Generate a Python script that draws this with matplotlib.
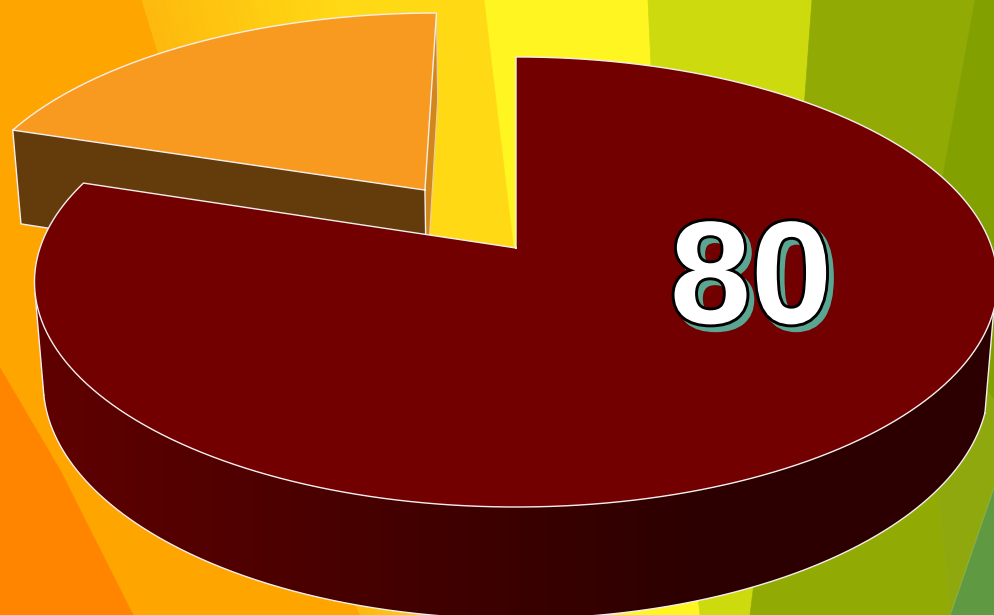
import numpy as np
import matplotlib
matplotlib.use('Agg')
import matplotlib.pyplot as plt
from matplotlib.patches import Polygon
from matplotlib.colors import to_rgb
import matplotlib.patheffects as pe

# data
values = [80, 20]
labels = ['80']
top_colors = ['#730000', '#f99a20']
explode = [0.0, 0.339]

# layout / projection
W, H = 994, 615
CX, CY = 516, 248
BX, AY, K = 476.0, 219.9, 0.151
DEPTH_Y, DEPTH_D = 101.6, 0.018

fig = plt.figure(figsize=(W / 100, H / 100), dpi=100)
ax = fig.add_axes([0, 0, 1, 1])

# decorative background bands
bands = [
    ('#ffa500', [(0, 0), (142, 0), (200, 190), (360, 615), (0, 615)]),
    ('#ff8500', [(0, 368), (60, 470), (133, 615), (0, 615)]),
    ('#fff520', [(484, 0), (648, 0), (660, 260), (700, 615), (560, 615), (515, 260)]),
    ('#cdda0e', [(648, 0), (812, 0), (790, 300), (750, 615), (700, 615), (660, 260)]),
    ('#92ab04', [(812, 0), (975, 0), (920, 300), (950, 615), (750, 615), (790, 300)]),
    ('#82a000', [(975, 0), (994, 0), (994, 400), (920, 300)]),
    ('#8ea80e', [(920, 300), (994, 400), (994, 487), (950, 615)]),
    ('#5f9a42', [(994, 487), (994, 615), (950, 615)]),
]
for col, pts in bands:
    ax.add_patch(Polygon(pts, closed=True, fc=col, ec=col, lw=0.5, zorder=0))
# soft gold ramp between the orange and yellow bands
n_ramp = 60
left_b = np.array([(142, 0), (200, 190), (360, 615)], float)
right_b = np.array([(484, 0), (515, 260), (560, 615)], float)
c0, c1 = np.array(to_rgb('#fdb90c')), np.array(to_rgb('#ffda14'))
for i in range(n_ramp):
    f0, f1 = i / n_ramp, (i + 1) / n_ramp
    a = left_b + (right_b - left_b) * f0
    b = left_b + (right_b - left_b) * f1
    c = c0 + (c1 - c0) * min(1, (i + .5) / (n_ramp * .6))
    ax.add_patch(Polygon(np.r_[a, b[::-1]], closed=True, fc=c, ec=c, lw=0.5, zorder=0.5))


def project(u, v, z=0.0):
    d = 1 + K * v + DEPTH_D * z
    return CX + BX * u / d, CY - (AY * v - DEPTH_Y * z) / d


def rim(t0, t1, ox, oy, z=0.0, n=200):
    t = np.linspace(t0, t1, n)
    return project(ox + np.sin(t), oy + np.cos(t), z)


total = sum(values)
angles = np.cumsum([0] + values) / total * 2 * np.pi
LINE = dict(color='#f4eeee', lw=1.0, solid_joinstyle='round')

# exploded slice (index 1)
t0, t1 = angles[1], angles[2]
mid = (t0 + t1) / 2
ox, oy = explode[1] * np.sin(mid), explode[1] * np.cos(mid)
ax0, ay0 = project(ox, oy)
bx0, by0 = project(ox, oy, 1)
px, py = project(ox + np.sin(t1), oy + np.cos(t1))
qx, qy = project(ox + np.sin(t1), oy + np.cos(t1), 1)
ax.add_patch(Polygon([(ax0, ay0), (px, py), (qx, qy), (bx0, by0)], fc='#d3871a', ec='none', zorder=2))
ax.plot([px, qx, bx0], [py, qy, by0], zorder=2.1, color='#e8cfa8', lw=0.8)
lx, ly = project(ox + np.sin(t0), oy + np.cos(t0))
mx, my = project(ox + np.sin(t0), oy + np.cos(t0), 1)
ax.add_patch(Polygon([(lx, ly), (ax0, ay0), (bx0, by0), (mx, my)], fc='#643c0c', ec='none', zorder=3))
ax.plot([lx, mx, bx0], [ly, my, by0], zorder=3.1, **LINE)
ax.plot([ax0, bx0], [ay0, by0], zorder=3.1, **LINE)
rx, ry = rim(t0, t1, ox, oy)
ax.add_patch(Polygon(np.r_[[[ax0, ay0]], np.c_[rx, ry]], fc=top_colors[1], ec='none', zorder=4))
ax.plot(np.r_[ax0, rx, ax0], np.r_[ay0, ry, ay0], zorder=4.1, **LINE)

# main slice (index 0): side wall, horizontal shade clipped to the wall
s0, s1 = angles[0], angles[1]
vis0, vis1 = np.deg2rad(105.7), np.deg2rad(258.5)
wtx, wty = rim(vis0, vis1, 0, 0, 0, 500)
wbx, wby = rim(vis0, vis1, 0, 0, 1, 500)
wall = Polygon(np.r_[np.c_[wtx, wty], np.c_[wbx, wby][::-1]], closed=True, fc='none', ec='none', zorder=5)
ax.add_patch(wall)
xs = np.arange(W) + 0.5
f = np.clip((xs - 60) / 640, 0, 1)
dark_l, dark_r = np.array([0x5e, 0, 0]) / 255, np.array([0x2c, 0, 0]) / 255
shade = (dark_l[None, :] + (dark_r - dark_l)[None, :] * f[:, None])[None, :, :]
im = ax.imshow(shade, extent=(0, W, H + 20, 0), aspect='auto', zorder=5, interpolation='nearest')
im.set_clip_path(wall)
ax.plot(wbx, wby, zorder=5.1, **LINE)
ax.plot([wtx[0], wbx[0]], [wty[0], wby[0]], zorder=5.1, **LINE)
ax.plot([wtx[-1], wbx[-1]], [wty[-1], wby[-1]], zorder=5.1, **LINE)
# top face
tx, ty = rim(s0, s1, 0, 0, 0, 600)
ax.add_patch(Polygon(np.r_[[[CX, CY]], np.c_[tx, ty]], fc=top_colors[0], ec='none', zorder=6))
ax.plot(np.r_[CX, tx, CX], np.r_[CY, ty, CY], zorder=6.1, **LINE)

# label
font = dict(fontsize=105, family='Liberation Sans', fontweight='bold', ha='center', va='baseline')
lab_x, lab_y = 751, 323
ax.text(lab_x + 5, lab_y + 5, labels[0], color='#5ba692', zorder=7,
        path_effects=[pe.withStroke(linewidth=4, foreground='#5ba692')], **font)
ax.text(lab_x, lab_y, labels[0], color='white', zorder=8,
        path_effects=[pe.withStroke(linewidth=4.2, foreground='black', joinstyle='round')], **font)

ax.set_xlim(0, W)
ax.set_ylim(H, 0)
ax.axis('off')
fig.savefig('out.png', dpi=100)
